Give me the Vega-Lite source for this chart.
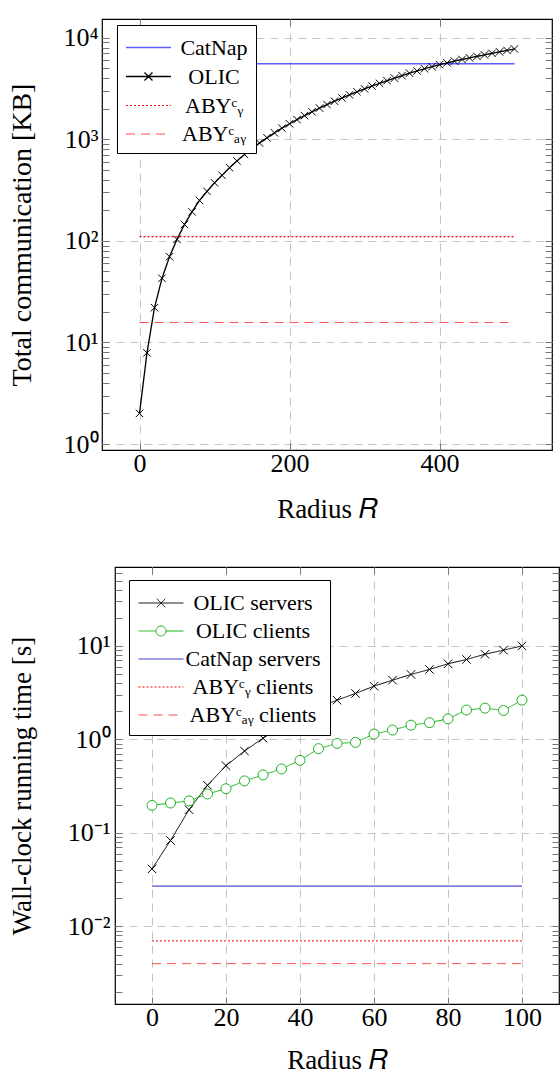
{
  "$schema": "https://vega.github.io/schema/vega-lite/v6.json",
  "padding": {"left": 6, "top": 17, "right": 0, "bottom": 0},
  "spacing": 36,
  "resolve": {"scale": {"color": "independent", "strokeDash": "independent", "shape": "independent", "strokeWidth": "independent"}},
  "config": {
    "font": "Liberation Serif",
    "view": {"stroke": "black", "strokeWidth": 1.2},
    "axis": {"labelFont": "Liberation Serif", "labelFontSize": 26, "labelColor": "black", "titleFont": "Liberation Serif", "titleFontSize": 27, "titleFontWeight": "normal", "titleColor": "black", "gridColor": "#c4c4c4", "gridDash": [8, 6], "gridWidth": 1, "tickColor": "#777777", "tickSize": -7, "tickWidth": 1, "domain": false, "labelFlush": false, "labelOverlap": false},
    "legend": {"labelFont": "Liberation Serif", "labelFontSize": 22, "labelColor": "black"}
  },
  "datasets": {
    "top": [
      {"series": "CatNap", "R": 0, "v": 5550}, {"series": "CatNap", "R": 500, "v": 5550},
      {"series": "ABYᶜᵧ", "R": 0, "v": 110}, {"series": "ABYᶜᵧ", "R": 500, "v": 110},
      {"series": "ABYᶜₐᵧ", "R": 0, "v": 15.7}, {"series": "ABYᶜₐᵧ", "R": 500, "v": 15.7},
      {"series": "OLIC", "R": 0, "v": 2.0}, {"series": "OLIC", "R": 10, "v": 7.9}, {"series": "OLIC", "R": 20, "v": 22.0}, {"series": "OLIC", "R": 30, "v": 42.8}, {"series": "OLIC", "R": 40, "v": 69.8}, {"series": "OLIC", "R": 50, "v": 103.5}, {"series": "OLIC", "R": 60, "v": 145}, {"series": "OLIC", "R": 70, "v": 193}, {"series": "OLIC", "R": 80, "v": 250}, {"series": "OLIC", "R": 90, "v": 307}, {"series": "OLIC", "R": 100, "v": 373}, {"series": "OLIC", "R": 110, "v": 442}, {"series": "OLIC", "R": 120, "v": 525}, {"series": "OLIC", "R": 130, "v": 613}, {"series": "OLIC", "R": 140, "v": 709}, {"series": "OLIC", "R": 150, "v": 811}, {"series": "OLIC", "R": 160, "v": 920}, {"series": "OLIC", "R": 170, "v": 1035}, {"series": "OLIC", "R": 180, "v": 1157}, {"series": "OLIC", "R": 190, "v": 1286}, {"series": "OLIC", "R": 200, "v": 1421}, {"series": "OLIC", "R": 210, "v": 1563}, {"series": "OLIC", "R": 220, "v": 1711}, {"series": "OLIC", "R": 230, "v": 1866}, {"series": "OLIC", "R": 240, "v": 2028}, {"series": "OLIC", "R": 250, "v": 2196}, {"series": "OLIC", "R": 260, "v": 2371}, {"series": "OLIC", "R": 270, "v": 2552}, {"series": "OLIC", "R": 280, "v": 2739}, {"series": "OLIC", "R": 290, "v": 2934}, {"series": "OLIC", "R": 300, "v": 3133}, {"series": "OLIC", "R": 310, "v": 3341}, {"series": "OLIC", "R": 320, "v": 3553}, {"series": "OLIC", "R": 330, "v": 3773}, {"series": "OLIC", "R": 340, "v": 3999}, {"series": "OLIC", "R": 350, "v": 4231}, {"series": "OLIC", "R": 360, "v": 4472}, {"series": "OLIC", "R": 370, "v": 4710}, {"series": "OLIC", "R": 380, "v": 4948}, {"series": "OLIC", "R": 390, "v": 5185}, {"series": "OLIC", "R": 400, "v": 5420}, {"series": "OLIC", "R": 410, "v": 5651}, {"series": "OLIC", "R": 420, "v": 5884}, {"series": "OLIC", "R": 430, "v": 6107}, {"series": "OLIC", "R": 440, "v": 6329}, {"series": "OLIC", "R": 450, "v": 6546}, {"series": "OLIC", "R": 460, "v": 6781}, {"series": "OLIC", "R": 470, "v": 7017}, {"series": "OLIC", "R": 480, "v": 7257}, {"series": "OLIC", "R": 490, "v": 7499}, {"series": "OLIC", "R": 500, "v": 7745}
    ],
    "bottom": [
      {"series": "CatNap servers", "R": 0, "v": 0.027}, {"series": "CatNap servers", "R": 100, "v": 0.027},
      {"series": "ABYᶜᵧ clients", "R": 0, "v": 0.0070}, {"series": "ABYᶜᵧ clients", "R": 100, "v": 0.0070},
      {"series": "ABYᶜₐᵧ clients", "R": 0, "v": 0.0040}, {"series": "ABYᶜₐᵧ clients", "R": 100, "v": 0.0040},
      {"series": "OLIC servers", "R": 0, "v": 0.0412}, {"series": "OLIC servers", "R": 5, "v": 0.083}, {"series": "OLIC servers", "R": 10, "v": 0.177}, {"series": "OLIC servers", "R": 15, "v": 0.323}, {"series": "OLIC servers", "R": 20, "v": 0.524}, {"series": "OLIC servers", "R": 25, "v": 0.751}, {"series": "OLIC servers", "R": 30, "v": 1.03}, {"series": "OLIC servers", "R": 35, "v": 1.36}, {"series": "OLIC servers", "R": 40, "v": 1.76}, {"series": "OLIC servers", "R": 45, "v": 2.19}, {"series": "OLIC servers", "R": 50, "v": 2.63}, {"series": "OLIC servers", "R": 55, "v": 3.1}, {"series": "OLIC servers", "R": 60, "v": 3.71}, {"series": "OLIC servers", "R": 65, "v": 4.3}, {"series": "OLIC servers", "R": 70, "v": 4.95}, {"series": "OLIC servers", "R": 75, "v": 5.6}, {"series": "OLIC servers", "R": 80, "v": 6.44}, {"series": "OLIC servers", "R": 85, "v": 7.16}, {"series": "OLIC servers", "R": 90, "v": 8.15}, {"series": "OLIC servers", "R": 95, "v": 9.0}, {"series": "OLIC servers", "R": 100, "v": 10.0},
      {"series": "OLIC clients", "R": 0, "v": 0.197}, {"series": "OLIC clients", "R": 5, "v": 0.209}, {"series": "OLIC clients", "R": 10, "v": 0.22}, {"series": "OLIC clients", "R": 15, "v": 0.261}, {"series": "OLIC clients", "R": 20, "v": 0.297}, {"series": "OLIC clients", "R": 25, "v": 0.36}, {"series": "OLIC clients", "R": 30, "v": 0.417}, {"series": "OLIC clients", "R": 35, "v": 0.483}, {"series": "OLIC clients", "R": 40, "v": 0.597}, {"series": "OLIC clients", "R": 45, "v": 0.796}, {"series": "OLIC clients", "R": 50, "v": 0.906}, {"series": "OLIC clients", "R": 55, "v": 0.93}, {"series": "OLIC clients", "R": 60, "v": 1.14}, {"series": "OLIC clients", "R": 65, "v": 1.26}, {"series": "OLIC clients", "R": 70, "v": 1.42}, {"series": "OLIC clients", "R": 75, "v": 1.51}, {"series": "OLIC clients", "R": 80, "v": 1.66}, {"series": "OLIC clients", "R": 85, "v": 2.06}, {"series": "OLIC clients", "R": 90, "v": 2.16}, {"series": "OLIC clients", "R": 95, "v": 2.04}, {"series": "OLIC clients", "R": 100, "v": 2.63}
    ]
  },
  "vconcat": [
    {
      "spacing": 0,
      "hconcat": [
        {"width": 1, "height": 1, "view": {"stroke": null}, "data": {"values": []}, "mark": "point", "encoding": {}},
        {
          "width": 450,
          "height": 431,
          "data": {"name": "top"},
          "layer": [
            {
              "mark": {"type": "line", "clip": true},
              "encoding": {
                "x": {"field": "R", "type": "quantitative", "scale": {"domain": [-50, 550], "nice": false, "zero": false},
                  "axis": {"orient": "bottom", "values": [0, 200, 400], "title": "Radius 𝑅", "grid": true, "labelPadding": 7, "titlePadding": 20}},
                "y": {"field": "v", "type": "quantitative", "scale": {"type": "log", "domain": [0.873, 15280], "nice": false},
                  "axis": {"orient": "left", "values": [1, 2, 3, 4, 5, 6, 7, 8, 9, 10, 20, 30, 40, 50, 60, 70, 80, 90, 100, 200, 300, 400, 500, 600, 700, 800, 900, 1000, 2000, 3000, 4000, 5000, 6000, 7000, 8000, 9000, 10000],
                    "labelExpr": "datum.value == 1 ? '10⁰' : datum.value == 10 ? '10¹' : datum.value == 100 ? '10²' : datum.value == 1000 ? '10³' : datum.value == 10000 ? '10⁴' : ''",
                    "grid": true,
                    "gridOpacity": {"condition": {"test": "indexof([1, 10, 100, 1000, 10000], datum.value) >= 0", "value": 1}, "value": 0},
                    "title": "Total communication [KB]", "titleFontSize": 28, "minExtent": 48, "maxExtent": 48, "titlePadding": 18, "labelPadding": 11}},
                "color": {"field": "series", "type": "nominal",
                  "scale": {"domain": ["CatNap", "OLIC", "ABYᶜᵧ", "ABYᶜₐᵧ"], "range": ["#5c5cff", "#000000", "#ff0000", "#ff4d4d"]},
                  "legend": {"title": null, "orient": "none", "legendX": 111, "legendY": 6, "symbolSize": 729, "symbolStrokeWidth": 1.4, "symbolOpacity": 1, "labelAlign": "center", "labelOffset": 60, "labelLimit": 0, "fillColor": "white", "strokeColor": "black", "padding": 8, "rowPadding": 3}},
                "strokeDash": {"field": "series", "type": "nominal",
                  "scale": {"domain": ["CatNap", "OLIC", "ABYᶜᵧ", "ABYᶜₐᵧ"], "range": [[1, 0], [1, 0], [2, 2], [9, 6]]},
                  "legend": {"title": null, "orient": "none", "legendX": 111, "legendY": 6, "symbolSize": 729, "symbolStrokeWidth": 1.4, "symbolOpacity": 1, "labelAlign": "center", "labelOffset": 60, "labelLimit": 0, "fillColor": "white", "strokeColor": "black", "padding": 8, "rowPadding": 3}},
                "strokeWidth": {"field": "series", "type": "nominal",
                  "scale": {"domain": ["CatNap", "OLIC", "ABYᶜᵧ", "ABYᶜₐᵧ"], "range": [1.5, 1, 2.2, 1.3]}, "legend": null}
              }
            },
            {
              "mark": {"type": "point", "opacity": 0, "filled": false},
              "encoding": {
                "x": {"field": "R", "type": "quantitative", "axis": {"orient": "top", "values": [0, 200, 400], "labels": false, "grid": false, "title": null, "minExtent": 0, "maxExtent": 0}},
                "y": {"field": "v", "type": "quantitative", "axis": {"orient": "right", "values": [1, 2, 3, 4, 5, 6, 7, 8, 9, 10, 20, 30, 40, 50, 60, 70, 80, 90, 100, 200, 300, 400, 500, 600, 700, 800, 900, 1000, 2000, 3000, 4000, 5000, 6000, 7000, 8000, 9000, 10000], "labels": false, "grid": false, "title": null, "minExtent": 0, "maxExtent": 0}},
                "color": {"field": "series", "type": "nominal",
                  "scale": {"domain": ["CatNap", "OLIC", "ABYᶜᵧ", "ABYᶜₐᵧ"], "range": ["#5c5cff", "#000000", "#ff0000", "#ff4d4d"]},
                  "legend": {"title": null, "orient": "none", "legendX": 111, "legendY": 6, "symbolSize": 729, "symbolStrokeWidth": 1.4, "symbolOpacity": 1, "labelAlign": "center", "labelOffset": 60, "labelLimit": 0, "fillColor": "white", "strokeColor": "black", "padding": 8, "rowPadding": 3}},
                "strokeDash": {"field": "series", "type": "nominal",
                  "scale": {"domain": ["CatNap", "OLIC", "ABYᶜᵧ", "ABYᶜₐᵧ"], "range": [[1, 0], [1, 0], [2, 2], [9, 6]]},
                  "legend": {"title": null, "orient": "none", "legendX": 111, "legendY": 6, "symbolSize": 729, "symbolStrokeWidth": 1.4, "symbolOpacity": 1, "labelAlign": "center", "labelOffset": 60, "labelLimit": 0, "fillColor": "white", "strokeColor": "black", "padding": 8, "rowPadding": 3}},
                "shape": {"field": "series", "type": "nominal",
                  "scale": {"domain": ["CatNap", "OLIC", "ABYᶜᵧ", "ABYᶜₐᵧ"], "range": ["M-1,0H2.33", "M-1,0H2.33M0.37,-0.3L0.96,0.3M0.37,0.3L0.96,-0.3", "M-1,0H2.33", "M-1,0H2.33"]},
                  "legend": {"title": null, "orient": "none", "legendX": 111, "legendY": 6, "symbolSize": 729, "symbolStrokeWidth": 1.4, "symbolOpacity": 1, "labelAlign": "center", "labelOffset": 60, "labelLimit": 0, "fillColor": "white", "strokeColor": "black", "padding": 8, "rowPadding": 3}}
              }
            },
            {
              "transform": [{"filter": "datum.series === 'OLIC'"}],
              "mark": {"type": "point", "shape": "M-1,-1L1,1M-1,1L1,-1", "size": 56, "filled": false, "stroke": "black", "strokeWidth": 1, "opacity": 1},
              "encoding": {
                "x": {"field": "R", "type": "quantitative", "axis": null},
                "y": {"field": "v", "type": "quantitative", "axis": null}
              }
            }
          ],
          "resolve": {"axis": {"x": "independent", "y": "independent"}}
        }
      ]
    },
    {
      "spacing": 0,
      "hconcat": [
        {"width": 1, "height": 1, "view": {"stroke": null}, "data": {"values": []}, "mark": "point", "encoding": {}},
        {
          "width": 444,
          "height": 437,
          "data": {"name": "bottom"},
          "layer": [
            {
              "mark": {"type": "line", "clip": true},
              "encoding": {
                "x": {"field": "R", "type": "quantitative", "scale": {"domain": [-10, 110], "nice": false, "zero": false},
                  "axis": {"orient": "bottom", "values": [0, 20, 40, 60, 80, 100], "title": "Radius 𝑅", "grid": true, "labelPadding": 7, "titlePadding": 17}},
                "y": {"field": "v", "type": "quantitative", "scale": {"type": "log", "domain": [0.00148, 69.8], "nice": false},
                  "axis": {"orient": "left", "values": [0.002, 0.003, 0.004, 0.005, 0.006, 0.007, 0.008, 0.009, 0.01, 0.02, 0.03, 0.04, 0.05, 0.06, 0.07, 0.08, 0.09, 0.1, 0.2, 0.3, 0.4, 0.5, 0.6, 0.7, 0.8, 0.9, 1, 2, 3, 4, 5, 6, 7, 8, 9, 10, 20, 30, 40, 50, 60],
                    "labelExpr": "datum.value == 0.01 ? '10⁻²' : datum.value == 0.1 ? '10⁻¹' : datum.value == 1 ? '10⁰' : datum.value == 10 ? '10¹' : ''",
                    "grid": true,
                    "gridOpacity": {"condition": {"test": "indexof([0.01, 0.1, 1, 10], datum.value) >= 0", "value": 1}, "value": 0},
                    "title": "Wall-clock running time [s]", "minExtent": 62, "maxExtent": 62, "titlePadding": 17, "labelPadding": 12}},
                "color": {"field": "series", "type": "nominal",
                  "scale": {"domain": ["OLIC servers", "OLIC clients", "CatNap servers", "ABYᶜᵧ clients", "ABYᶜₐᵧ clients"], "range": ["#000000", "#1fb31f", "#2020c8", "#ff0000", "#ff5050"]},
                  "legend": {"title": null, "orient": "none", "legendX": 123, "legendY": 13, "symbolSize": 729, "symbolStrokeWidth": 1.4, "symbolOpacity": 1, "labelAlign": "center", "labelOffset": 87, "labelLimit": 0, "fillColor": "white", "strokeColor": "black", "padding": 9, "rowPadding": 3}},
                "strokeDash": {"field": "series", "type": "nominal",
                  "scale": {"domain": ["OLIC servers", "OLIC clients", "CatNap servers", "ABYᶜᵧ clients", "ABYᶜₐᵧ clients"], "range": [[1, 0], [1, 0], [1, 0], [2, 2], [9, 6]]},
                  "legend": {"title": null, "orient": "none", "legendX": 123, "legendY": 13, "symbolSize": 729, "symbolStrokeWidth": 1.4, "symbolOpacity": 1, "labelAlign": "center", "labelOffset": 87, "labelLimit": 0, "fillColor": "white", "strokeColor": "black", "padding": 9, "rowPadding": 3}},
                "strokeWidth": {"field": "series", "type": "nominal",
                  "scale": {"domain": ["OLIC servers", "OLIC clients", "CatNap servers", "ABYᶜᵧ clients", "ABYᶜₐᵧ clients"], "range": [1, 1, 1, 2.2, 1.4]}, "legend": null}
              }
            },
            {
              "mark": {"type": "point", "opacity": 0, "filled": false},
              "encoding": {
                "x": {"field": "R", "type": "quantitative", "axis": {"orient": "top", "values": [0, 20, 40, 60, 80, 100], "labels": false, "grid": false, "title": null, "minExtent": 0, "maxExtent": 0}},
                "y": {"field": "v", "type": "quantitative", "axis": {"orient": "right", "values": [0.002, 0.003, 0.004, 0.005, 0.006, 0.007, 0.008, 0.009, 0.01, 0.02, 0.03, 0.04, 0.05, 0.06, 0.07, 0.08, 0.09, 0.1, 0.2, 0.3, 0.4, 0.5, 0.6, 0.7, 0.8, 0.9, 1, 2, 3, 4, 5, 6, 7, 8, 9, 10, 20, 30, 40, 50, 60], "labels": false, "grid": false, "title": null, "minExtent": 0, "maxExtent": 0}},
                "color": {"field": "series", "type": "nominal",
                  "scale": {"domain": ["OLIC servers", "OLIC clients", "CatNap servers", "ABYᶜᵧ clients", "ABYᶜₐᵧ clients"], "range": ["#000000", "#1fb31f", "#2020c8", "#ff0000", "#ff5050"]},
                  "legend": {"title": null, "orient": "none", "legendX": 123, "legendY": 13, "symbolSize": 729, "symbolStrokeWidth": 1.4, "symbolOpacity": 1, "labelAlign": "center", "labelOffset": 87, "labelLimit": 0, "fillColor": "white", "strokeColor": "black", "padding": 9, "rowPadding": 3}},
                "strokeDash": {"field": "series", "type": "nominal",
                  "scale": {"domain": ["OLIC servers", "OLIC clients", "CatNap servers", "ABYᶜᵧ clients", "ABYᶜₐᵧ clients"], "range": [[1, 0], [1, 0], [1, 0], [2, 2], [9, 6]]},
                  "legend": {"title": null, "orient": "none", "legendX": 123, "legendY": 13, "symbolSize": 729, "symbolStrokeWidth": 1.4, "symbolOpacity": 1, "labelAlign": "center", "labelOffset": 87, "labelLimit": 0, "fillColor": "white", "strokeColor": "black", "padding": 9, "rowPadding": 3}},
                "shape": {"field": "series", "type": "nominal",
                  "scale": {"domain": ["OLIC servers", "OLIC clients", "CatNap servers", "ABYᶜᵧ clients", "ABYᶜₐᵧ clients"], "range": ["M-1,0H2.33M0.35,-0.32L0.99,0.32M0.35,0.32L0.99,-0.32", "M-1,0H0.297M1.037,0H2.33M1.037,0A0.37,0.37 0 1 1 0.297,0A0.37,0.37 0 1 1 1.037,0", "M-1,0H2.33", "M-1,0H2.33", "M-1,0H2.33"]},
                  "legend": {"title": null, "orient": "none", "legendX": 123, "legendY": 13, "symbolSize": 729, "symbolStrokeWidth": 1.4, "symbolOpacity": 1, "labelAlign": "center", "labelOffset": 87, "labelLimit": 0, "fillColor": "white", "strokeColor": "black", "padding": 9, "rowPadding": 3}}
              }
            },
            {
              "transform": [{"filter": "datum.series === 'OLIC servers'"}],
              "mark": {"type": "point", "shape": "M-1,-1L1,1M-1,1L1,-1", "size": 72, "filled": false, "stroke": "black", "strokeWidth": 1, "opacity": 1},
              "encoding": {
                "x": {"field": "R", "type": "quantitative", "axis": null},
                "y": {"field": "v", "type": "quantitative", "axis": null}
              }
            },
            {
              "transform": [{"filter": "datum.series === 'OLIC clients'"}],
              "mark": {"type": "point", "shape": "circle", "size": 100, "filled": false, "fill": "white", "fillOpacity": 1, "stroke": "#1fb31f", "strokeWidth": 1, "opacity": 1},
              "encoding": {
                "x": {"field": "R", "type": "quantitative", "axis": null},
                "y": {"field": "v", "type": "quantitative", "axis": null}
              }
            }
          ],
          "resolve": {"axis": {"x": "independent", "y": "independent"}}
        }
      ]
    }
  ]
}
